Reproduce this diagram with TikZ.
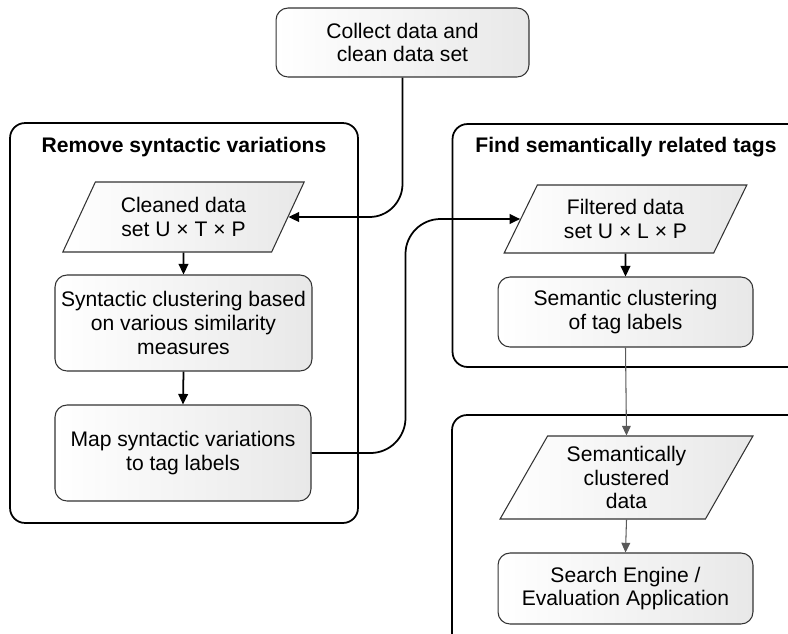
\documentclass[tikz,border=0pt]{standalone}
\usepackage{fontspec}
\setmainfont{Liberation Sans}
\usepackage{tikz}
\usetikzlibrary{arrows.meta}
\usetikzlibrary{positioning}
\usetikzlibrary{shapes.geometric}
\tikzstyle{proc}=[draw=black!80,line width=0.6pt,rounded corners=0.24cm,left color=white,right color=black!9,align=center,inner sep=2pt]
\tikzstyle{data}=[draw=black!80,line width=0.6pt,trapezium,trapezium left angle=61,trapezium right angle=119,trapezium stretches=true,left color=white,right color=black!9,align=center,inner sep=1pt]
\tikzstyle{group}=[draw,line width=1pt,rounded corners=0.3cm]
\tikzstyle{grouptitle}=[font=\fontsize{12}{13.6}\selectfont\bfseries]
\tikzstyle{flow}=[line width=1pt,-{Triangle[length=6pt,width=5.5pt]}]
\tikzstyle{thinflow}=[draw=black!65,line width=0.6pt,-{Triangle[length=5.5pt,width=5pt]}]

\begin{document}
\begin{tikzpicture}[x=0.02cm,y=-0.02cm,font=\fontsize{12}{13.6}\selectfont]
\useasboundingbox (0,0) rectangle (788,633);
\clip (0,0) rectangle (788,633);

% the three groups
\node [group,minimum width=6.96cm,minimum height=8cm] (syngroup) at (184,323) {};
\node [group,minimum width=7.54cm,minimum height=4.86cm] (semgroup) at (641,245.5) {};
\node [group,minimum width=7.56cm,minimum height=4.9cm] (appgroup) at (641,537.5) {};
\node [grouptitle] (syntitle) at (184,147) {Remove syntactic variations};
\node [grouptitle] (semtitle) at (626,147) {Find semantically related tags};

% steps
\node [proc,minimum width=5.06cm,minimum height=1.38cm] (collect) at (402.5,42.5) {Collect data and\\clean data set};
\node [data,minimum width=4.86cm,minimum height=1.4cm] (cleaned) at (183.5,217) {Cleaned data\\set U × T × P};
\node [proc,minimum width=5.14cm,minimum height=1.92cm] (syntactic) at (183.5,323) {Syntactic clustering based\\on various similarity\\measures};
\node [proc,minimum width=5.12cm,minimum height=1.92cm] (map) at (183,453) {Map syntactic variations\\to tag labels};
\node [data,minimum width=4.9cm,minimum height=1.36cm] (filtered) at (625.5,219) {Filtered data\\set U × L × P};
\node [proc,minimum width=5.1cm,minimum height=1.4cm] (semantic) at (625.5,312) {Semantic clustering\\of tag labels};
\node [data,minimum width=5.06cm,minimum height=1.66cm] (clustered) at (626.5,477.5) {Semantically\\clustered\\data};
\node [proc,minimum width=5.1cm,minimum height=1.42cm] (search) at (625.5,588.5) {Search Engine /\\Evaluation Application};

% connectors
\draw [flow,rounded corners=0.66cm] (collect.south) |- (cleaned.east);
\draw [flow] (cleaned.south) -- (syntactic.north);
\draw [flow] (syntactic.south) -- (map.north);
\draw [flow,rounded corners=0.7cm] (map.east) -- ++(94,0) |- (filtered.west);
\draw [flow] (filtered.south) -- (semantic.north);
\draw [thinflow] (semantic.south) -- (clustered.north);
\draw [thinflow] (clustered.south) -- (search.north);
\end{tikzpicture}
\end{document}
